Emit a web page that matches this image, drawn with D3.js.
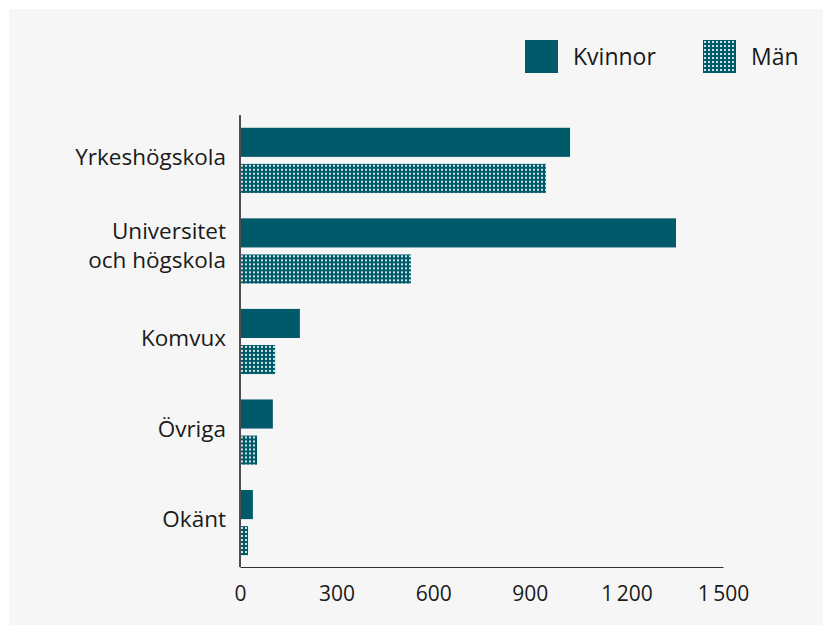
<!DOCTYPE html>
<html>
<head>
<meta charset="utf-8">
<script src="https://cdn.jsdelivr.net/npm/d3@7"></script>
<style>
    body { margin: 0; background: #fff; }
    svg text { font-family: 'Open Sans', sans-serif; fill: #1a1a1a; }
</style>
</head>
<body>
<svg id="chart"></svg>
<script>
const categories = ['Yrkeshögskola', 'Universitet\noch högskola', 'Komvux', 'Övriga', 'Okänt'];
const seriesNames = ['Kvinnor', 'Män'];
const kvinnor = [1025, 1354, 186, 102, 40];
const man = [950, 531, 109, 53, 25];
const xTicks = [0, 300, 600, 900, 1200, 1500];

const width = 832;
const height = 634;
const marginLeft = 240;
const marginRight = 109;
const marginTop = 116;
const marginBottom = 67;
const teal = '#005a69';

const rows = categories.map((c, i) => ({ category: c, Kvinnor: kvinnor[i], Män: man[i] }));

const svg = d3.select('#chart').attr('width', width).attr('height', height);

// Panel background.
svg.append('rect').attr('x', 9).attr('y', 9).attr('width', 814).attr('height', 616).attr('fill', '#f6f6f6');

// Dotted pattern for Män.
const pattern = svg.append('defs').append('pattern')
    .attr('id', 'dots')
    .attr('patternUnits', 'userSpaceOnUse')
    .attr('width', 4)
    .attr('height', 4);
pattern.append('rect').attr('width', 4).attr('height', 4).attr('fill', teal);
pattern.append('rect').attr('x', 1).attr('y', 1).attr('width', 2).attr('height', 2).attr('fill', '#cfe3e3');

const fills = { Kvinnor: teal, Män: 'url(#dots)' };

// Scales.
const x = d3.scaleLinear().domain([0, 1500]).range([marginLeft, width - marginRight]);

const y = d3.scaleBand()
    .domain(categories)
    .range([marginTop, height - marginBottom])
    .paddingInner(0.28)
    .paddingOuter(0.13);

const ySub = d3.scaleBand().domain(seriesNames).range([0, y.bandwidth()]).paddingInner(0.194);

// Bars.
svg.append('g')
    .selectAll('g')
    .data(rows)
    .join('g')
    .attr('transform', d => `translate(0, ${y(d.category)})`)
    .selectAll('rect')
    .data(d => seriesNames.map(s => ({ key: s, value: d[s] })))
    .join('rect')
    .attr('x', x(0))
    .attr('y', d => ySub(d.key))
    .attr('width', d => x(d.value) - x(0))
    .attr('height', ySub.bandwidth())
    .attr('fill', d => fills[d.key]);

// X axis.
const fmt = d => d >= 1000 ? d3.format('d')(d).replace(/^(\d)/, '$1\u2009') : String(d);
const xAxis = svg.append('g')
    .attr('transform', `translate(0, ${height - marginBottom})`)
    .call(d3.axisBottom(x).tickValues(xTicks).tickFormat(fmt).tickSize(0).tickPadding(19));
xAxis.select('.domain').attr('stroke', '#333').attr('stroke-width', 1.2);
xAxis.selectAll('text').attr('font-size', 21).style('font-family', "'Open Sans', sans-serif").attr('fill', '#1a1a1a');

// Y axis line.
svg.append('line')
    .attr('x1', x(0)).attr('x2', x(0))
    .attr('y1', marginTop - 1).attr('y2', height - marginBottom)
    .attr('stroke', '#4d4d4d')
    .attr('stroke-width', 2);

// Category labels.
const labels = svg.append('g')
    .selectAll('text')
    .data(categories)
    .join('text')
    .attr('text-anchor', 'end')
    .attr('font-size', 22.5);
labels.each(function (d) {
    const lines = d.split('\n');
    const cy = y(d) + y.bandwidth() / 2;
    const lh = 29;
    const first = lines.length > 1 ? cy - 12 : cy + 4.5;
    d3.select(this).selectAll('tspan')
        .data(lines)
        .join('tspan')
        .attr('x', marginLeft - 14)
        .attr('y', (l, i) => first + i * lh)
        .text(l => l);
});

// Legend.
const legendItems = [
    { name: 'Kvinnor', x: 525 },
    { name: 'Män', x: 703 },
];
const legend = svg.append('g').selectAll('g').data(legendItems).join('g')
    .attr('transform', d => `translate(${d.x}, 40)`);
legend.append('rect').attr('width', 33).attr('height', 33).attr('fill', d => fills[d.name]);
legend.append('text').attr('x', 48).attr('y', 25).attr('font-size', 23).text(d => d.name);
</script>
</body>
</html>
